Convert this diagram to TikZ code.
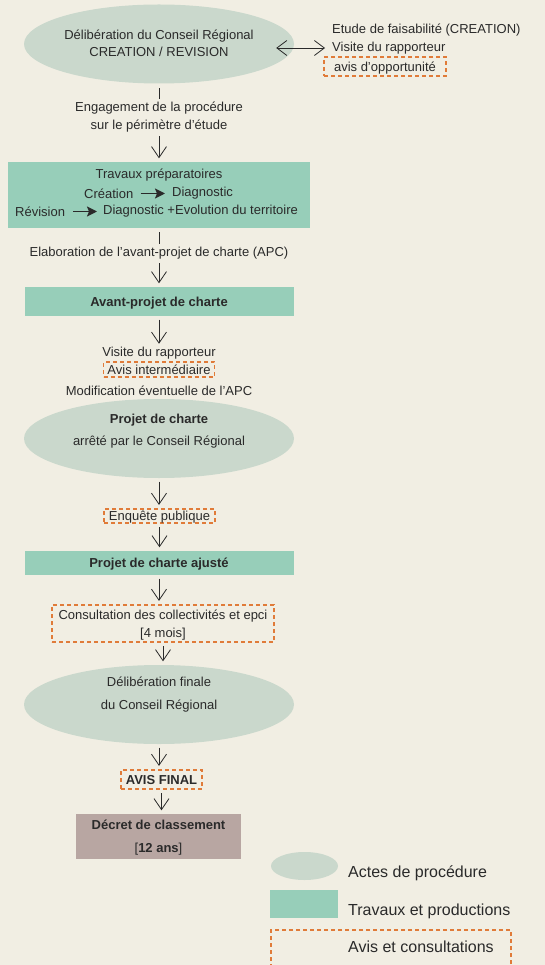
\documentclass[tikz,border=0pt]{standalone}
\usepackage{fontspec}
\setmainfont{Liberation Sans}
\usetikzlibrary{shapes.geometric,arrows.meta}
\definecolor{fondcreme}{HTML}{F1EEE3}
\definecolor{vertgris}{HTML}{CAD8CC}
\definecolor{vertclair}{HTML}{97CEB9}
\definecolor{brunrose}{HTML}{B8A6A2}
\definecolor{orangeavis}{HTML}{E07B39}
\definecolor{texte}{HTML}{2A2A2A}

\begin{document}
\begin{tikzpicture}[x=1pt,y=-1pt,
    every node/.style={text=texte,inner sep=0pt,font=\fontsize{13}{18}\selectfont},
    acte/.style={ellipse,fill=vertgris,minimum width=270pt,minimum height=79pt},
    boite/.style={rectangle,fill=vertclair,minimum width=269pt,text depth=0pt},
    avisbox/.style={draw=orangeavis,line width=1.2pt,dash pattern=on 4pt off 3pt},
    legende/.style={anchor=west,font=\fontsize{16}{18}\selectfont},
    trait/.style={draw=texte,line width=0.8pt},
    fleche/.style={trait,-{Straight Barb[length=11pt,width=15pt]},shorten <=3.5pt,shorten >=3.5pt},
    fleches/.style={trait,{Straight Barb[length=10pt,width=15pt]}-{Straight Barb[length=10pt,width=15pt]}},
    gros/.style={draw=texte,line width=1.8pt,-{Stealth[length=10pt,width=10pt,inset=2pt]}}]
    \path[use as bounding box,fill=fondcreme] (0,0) rectangle (545,965);

    \node[acte] (delib) at (159,44) {};
    \node[align=center] (delibT) at (159,43) {Délibération du Conseil Régional\\[-1pt]CREATION / REVISION};
    \node[anchor=west] (etude) at (332,30) {Etude de faisabilité (CREATION)};
    \node[anchor=west] (visite) at (332,48) {Visite du rapporteur};
    \node[avisbox,minimum width=122pt,minimum height=19pt,text depth=0pt] (avisopp) at (385,66.5) {avis d’opportunité};

    \node[align=center] (engage) at (159,117.5) {Engagement de la procédure\\sur le périmètre d’étude};

    \node[boite,minimum width=302pt,minimum height=66pt] (travaux) at (159,195) {};
    \node (travT) at (159,175.5) {Travaux préparatoires};
    \node[anchor=west] (creation) at (84,193.5) {Création};
    \node[anchor=west] (diag1) at (172,193.5) {Diagnostic};
    \node[anchor=west] (revision) at (15,211.5) {Révision};
    \node[anchor=west] (diag2) at (103,211.5) {Diagnostic +Evolution du territoire};

    \node (elab) at (159,253.5) {Elaboration de l’avant-projet de charte (APC)};
    \node[boite,minimum height=29pt,font=\fontsize{13}{18}\selectfont\bfseries] (apc) at (159,301.5) {Avant-projet de charte};

    \node (visiteb) at (159,353.5) {Visite du rapporteur};
    \node[avisbox,minimum width=111pt,minimum height=15pt,text depth=0pt] (avisint) at (159,369.5) {Avis intermédiaire};
    \node (modif) at (159,390.5) {Modification éventuelle de l’APC};

    \node[acte] (projet) at (159,438.5) {};
    \node[align=center] (projetT) at (159,431.5) {\bfseries Projet de charte\\[4pt]arrêté par le Conseil Régional};

    \node[avisbox,minimum width=111pt,minimum height=14pt,text depth=0pt] (enquete) at (159.5,516) {Enquête publique};
    \node[boite,minimum height=24pt,font=\fontsize{13}{18}\selectfont\bfseries] (ajuste) at (159,563) {Projet de charte ajusté};

    \node[avisbox,align=center,minimum width=222pt,minimum height=37pt,text depth=0pt] (consult) at (163,623.5) {Consultation des collectivités et epci\\{[4 mois]}};

    \node[acte] (final) at (159,704.5) {};
    \node[align=center] (finalT) at (159,694.5) {Délibération finale\\[5pt]du Conseil Régional};

    \node[avisbox,minimum width=81pt,minimum height=19pt,text depth=0pt,font=\fontsize{13}{18}\selectfont\bfseries] (avisfinal) at (161.5,779.5) {AVIS FINAL};
    \node[fill=brunrose,align=center,minimum width=165pt,minimum height=45pt,text depth=0pt] (decret) at (158.5,836.5) {\bfseries Décret de classement\\[5pt]{[}{\bfseries 12 ans}{]}};

    \draw[fleches,shorten <=-18pt,shorten >=7pt] (delib.east |- visite.west) -- (visite.west);
    \draw[trait,shorten <=4.5pt,shorten >=3.5pt] (delib.south) -- (engage.north);
    \draw[trait,shorten <=4pt,shorten >=3pt] (travaux.south) -- (elab.north);
    \foreach \a/\b in {engage/travaux,elab/apc,apc/visiteb,projet/enquete,enquete/ajuste,ajuste/consult,consult/final,final/avisfinal,avisfinal/decret}{
      \draw[fleche] (\a.south) -- (\a.south |- \b.north);
    }
    \draw[gros,shorten <=7pt,shorten >=7pt] (creation) -- (diag1);
    \draw[gros,shorten <=8pt,shorten >=6pt] (revision) -- (diag2);

    \node[ellipse,fill=vertgris,minimum width=67pt,minimum height=28pt] (legacte) at (304.5,866) {};
    \node[legende] (legacteT) at (348,873) {Actes de procédure};
    \node[fill=vertclair,minimum width=68pt,minimum height=28pt] (legtrav) at (304,904) {};
    \node[legende] (legtravT) at (348,911) {Travaux et productions};
    \node[avisbox,minimum width=240pt,minimum height=46pt] (legavis) at (391,953) {};
    \node[legende] (legavisT) at (348,947) {Avis et consultations};
  \end{tikzpicture}
\end{document}
